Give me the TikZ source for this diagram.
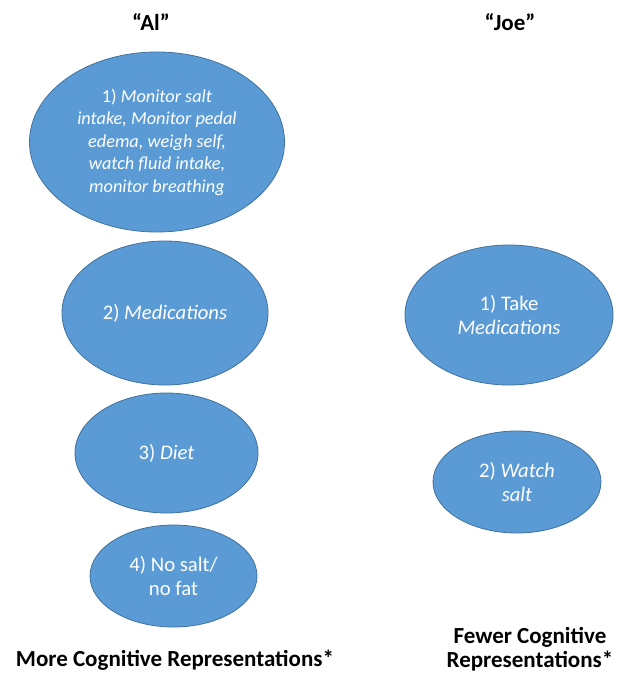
\documentclass[tikz,border=0pt]{standalone}
\usepackage{fontspec}
\setmainfont{Carlito}
\usetikzlibrary{shapes.geometric}
\definecolor{ovfill}{HTML}{5B9BD5}
\definecolor{ovline}{HTML}{41719C}
\begin{document}
\begin{tikzpicture}[x=1pt,y=-1pt,
  oval/.style={ellipse,fill=ovfill,draw=ovline,line width=0.8pt,inner sep=0pt,text=white,align=center,
    font=\fontsize{20.7}{24}\selectfont},
  bigoval/.style={oval,font=\fontsize{18.3}{22.5}\selectfont},
  head/.style={font=\fontsize{23}{26}\selectfont\bfseries,text=black},
  foot/.style={font=\fontsize{23}{24.5}\selectfont\bfseries,text=black,align=center}]
\useasboundingbox (0,0) rectangle (630,675);
\node[head] (al) at (151,22) {“Al”};
\node[head] (joe) at (510,22) {“Joe”};
\node[bigoval,minimum width=255,minimum height=180] (a1) at (157,142)
  {1) \textit{Monitor salt}\\\textit{intake, Monitor pedal}\\\textit{edema, weigh self,}\\\textit{watch fluid intake,}\\\textit{monitor breathing}};
\node[oval,minimum width=206,minimum height=144] (a2) at (165,313) {2) \textit{Medications}};
\node[oval,minimum width=183,minimum height=120] (a3) at (166.5,453) {3) \textit{Diet}};
\node[oval,minimum width=167,minimum height=102] (a4) at (173.5,576) {4) No salt/\\no fat};
\node[oval,minimum width=208,minimum height=140] (j1) at (509,315) {1) Take\\\textit{Medications}};
\node[oval,minimum width=168,minimum height=102] (j2) at (517,482) {2) \textit{Watch}\\\textit{salt}};
\node[foot] (mf) at (175,660) {More Cognitive Representations*};
\node[foot] (ff) at (530,649) {Fewer Cognitive\\Representations*};
\end{tikzpicture}
\end{document}
